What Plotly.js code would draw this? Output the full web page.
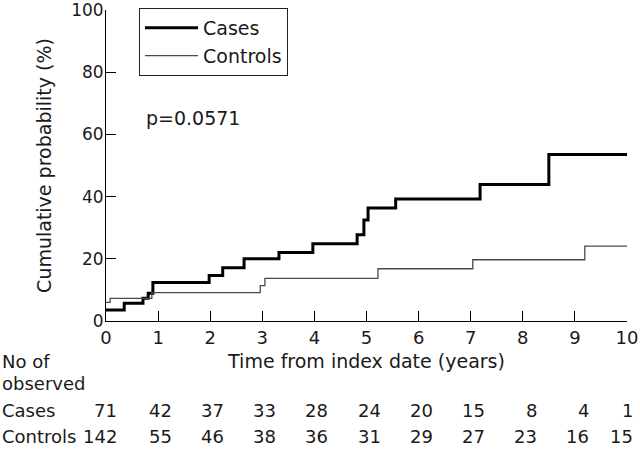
<!DOCTYPE html>
<html>
<head>
<meta charset="utf-8">
<script src="https://cdn.plot.ly/plotly-3.0.1.min.js"></script>
<style>
  html, body { margin: 0; padding: 0; background: #fff; }
  #chart { width: 640px; height: 449px; }
</style>
</head>
<body>
<div id="chart"></div>
<script>
// step curves (years, %)
const casesTime = [0, 0.35, 0.71, 0.81, 0.90, 1.98, 2.24, 2.65, 3.32, 3.97, 4.82, 4.95, 5.03, 5.56, 7.18, 8.50, 10];
const casesProb = [3.5, 5.7, 7.3, 8.9, 12.4, 14.6, 17.1, 20, 22, 24.8, 27.7, 32.5, 36.3, 39.2, 43.9, 53.5, 53.5];
const controlsTime = [0, 0.08, 0.88, 2.96, 3.05, 5.22, 7.04, 9.19, 10];
const controlsProb = [6, 7.3, 9.1, 11.4, 13.7, 16.8, 19.7, 24.1, 24.1];

// numbers at risk table
const years = [0, 1, 2, 3, 4, 5, 6, 7, 8, 9, 10];
const casesObserved = [71, 42, 37, 33, 28, 24, 20, 15, 8, 4, 1];
const controlsObserved = [142, 55, 46, 38, 36, 31, 29, 27, 23, 16, 15];

const font = "DejaVu Sans, sans-serif";
const ink = "#1a1a1a";

const traces = [
    {
        x: casesTime, y: casesProb, name: "Cases",
        type: "scatter", mode: "lines",
        line: { shape: "hv", color: "#000", width: 3 }
    },
    {
        x: controlsTime, y: controlsProb, name: "Controls",
        type: "scatter", mode: "lines",
        line: { shape: "hv", color: "#4a4a4a", width: 1.3 }
    }
];

// paper y for a pixel row below the plot (plot area is 312px tall, bottom at 321)
function rowY(py) { return (321 - py) / 312; }

const annotations = [
    { x: 0.73, y: 65.4, xref: "x", yref: "y", xanchor: "left", yanchor: "middle",
      text: "p=0.0571", showarrow: false, font: { family: font, size: 19, color: ink } },
    { x: -106 / 521, y: rowY(362), xref: "paper", yref: "paper", xanchor: "left", yanchor: "middle",
      text: "No of", showarrow: false, font: { family: font, size: 18, color: ink } },
    { x: -106 / 521, y: rowY(384), xref: "paper", yref: "paper", xanchor: "left", yanchor: "middle",
      text: "observed", showarrow: false, font: { family: font, size: 18, color: ink } },
    { x: -106 / 521, y: rowY(411), xref: "paper", yref: "paper", xanchor: "left", yanchor: "middle",
      text: "Cases", showarrow: false, font: { family: font, size: 18, color: ink } },
    { x: -106 / 521, y: rowY(437), xref: "paper", yref: "paper", xanchor: "left", yanchor: "middle",
      text: "Controls", showarrow: false, font: { family: font, size: 18, color: ink } }
];

years.forEach(function(yr, i) {
    let shift = 16;
    if (i === 0) shift = 13;
    if (i === years.length - 1) shift = 8;
    annotations.push({ x: yr, y: rowY(411), xref: "x", yref: "paper", xanchor: "right", yanchor: "middle",
        xshift: shift, text: String(casesObserved[i]), showarrow: false,
        font: { family: font, size: 18, color: ink } });
    annotations.push({ x: yr, y: rowY(437), xref: "x", yref: "paper", xanchor: "right", yanchor: "middle",
        xshift: shift, text: String(controlsObserved[i]), showarrow: false,
        font: { family: font, size: 18, color: ink } });
});

const layout = {
    width: 640, height: 449,
    margin: { l: 106, r: 13, t: 9, b: 128 },
    paper_bgcolor: "#fff", plot_bgcolor: "#fff",
    font: { family: font, size: 18, color: ink },
    showlegend: true,
    legend: {
        x: 33 / 521, y: 1 + 1 / 312, xanchor: "left", yanchor: "top",
        bordercolor: "#222", borderwidth: 1, bgcolor: "#fff",
        font: { family: font, size: 19, color: ink },
        itemwidth: 53, tracegroupgap: 0
    },
    xaxis: {
        range: [0, 10], tickvals: years, ticks: "inside", ticklen: 10,
        tickcolor: "#000", showline: true, linecolor: "#000", linewidth: 1,
        showgrid: false, zeroline: false, tickfont: { size: 18 },
        title: { text: "Time from index date (years)", font: { size: 19 }, standoff: 8 }
    },
    yaxis: {
        range: [0, 100], tickvals: [0, 20, 40, 60, 80, 100], ticks: "inside", ticklen: 10,
        tickcolor: "#000", showline: true, linecolor: "#000", linewidth: 1,
        showgrid: false, zeroline: false, tickfont: { size: 17 },
        ticklabeloverflow: "allow", ticklabelstandoff: -2,
        title: { text: "Cumulative probability (%)", font: { size: 19 }, standoff: 14 }
    },
    annotations: annotations
};

Plotly.newPlot("chart", traces, layout, { displayModeBar: false, staticPlot: true });
</script>
</body>
</html>
